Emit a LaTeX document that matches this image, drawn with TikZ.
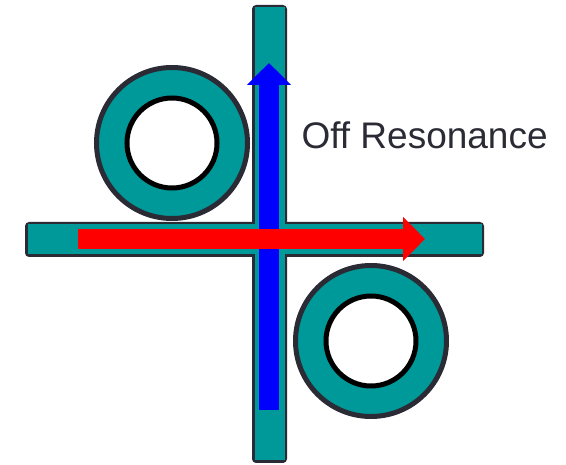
\documentclass[tikz,border=0pt]{standalone}
\usepackage{fontspec}
\setmainfont{Liberation Sans}
\usetikzlibrary{arrows.meta}
\definecolor{guide}{RGB}{0,153,153}
\definecolor{edge}{RGB}{43,43,53}

\begin{document}
\begin{tikzpicture}[
  x=1pt, y=-1pt,
  wguide/.style={rectangle,draw=edge,fill=guide,line width=5pt,rounded corners=2pt,inner sep=0pt},
  ringout/.style={circle,draw=edge,fill=guide,line width=5pt,minimum size=151pt,inner sep=0pt},
  ringin/.style={circle,draw=black,fill=white,line width=5pt,minimum size=90pt,inner sep=0pt},
  beam/.style={line width=20pt,-{Triangle[width=43pt,length=22pt]}}
]
  \useasboundingbox (0,0) rectangle (566,465);
  % rings
  \node[ringout] (r1) at (172,143) {};
  \node[ringin] (r1i) at (172,143) {};
  \node[ringout] (r2) at (371,341) {};
  \node[ringin] (r2i) at (371,341) {};
  % waveguides
  \node[wguide,minimum width=454pt,minimum height=30pt] (bus) at (254.5,239.5) {};
  \node[wguide,minimum width=30pt,minimum height=453pt] (drop) at (269.5,234) {};
  \fill[guide] ([shift={(2.5pt,2.5pt)}]bus.south west) rectangle ([shift={(-2.5pt,-2.5pt)}]bus.north east);
  \fill[guide] ([shift={(2.5pt,2.5pt)}]drop.south west) rectangle ([shift={(-2.5pt,-2.5pt)}]drop.north east);
  % light
  \coordinate (bin) at (269,410);
  \coordinate (bout) at (269,63);
  \coordinate (rin) at (78,239);
  \coordinate (rout) at (425,239);
  \draw[beam,blue] (bin) -- (bout);
  \draw[beam,red] (rin) -- (rout);
  \node[text=edge,font=\fontsize{37}{44}\selectfont,anchor=west] (lbl) at (298,135) {Off Resonance};
\end{tikzpicture}
\end{document}
